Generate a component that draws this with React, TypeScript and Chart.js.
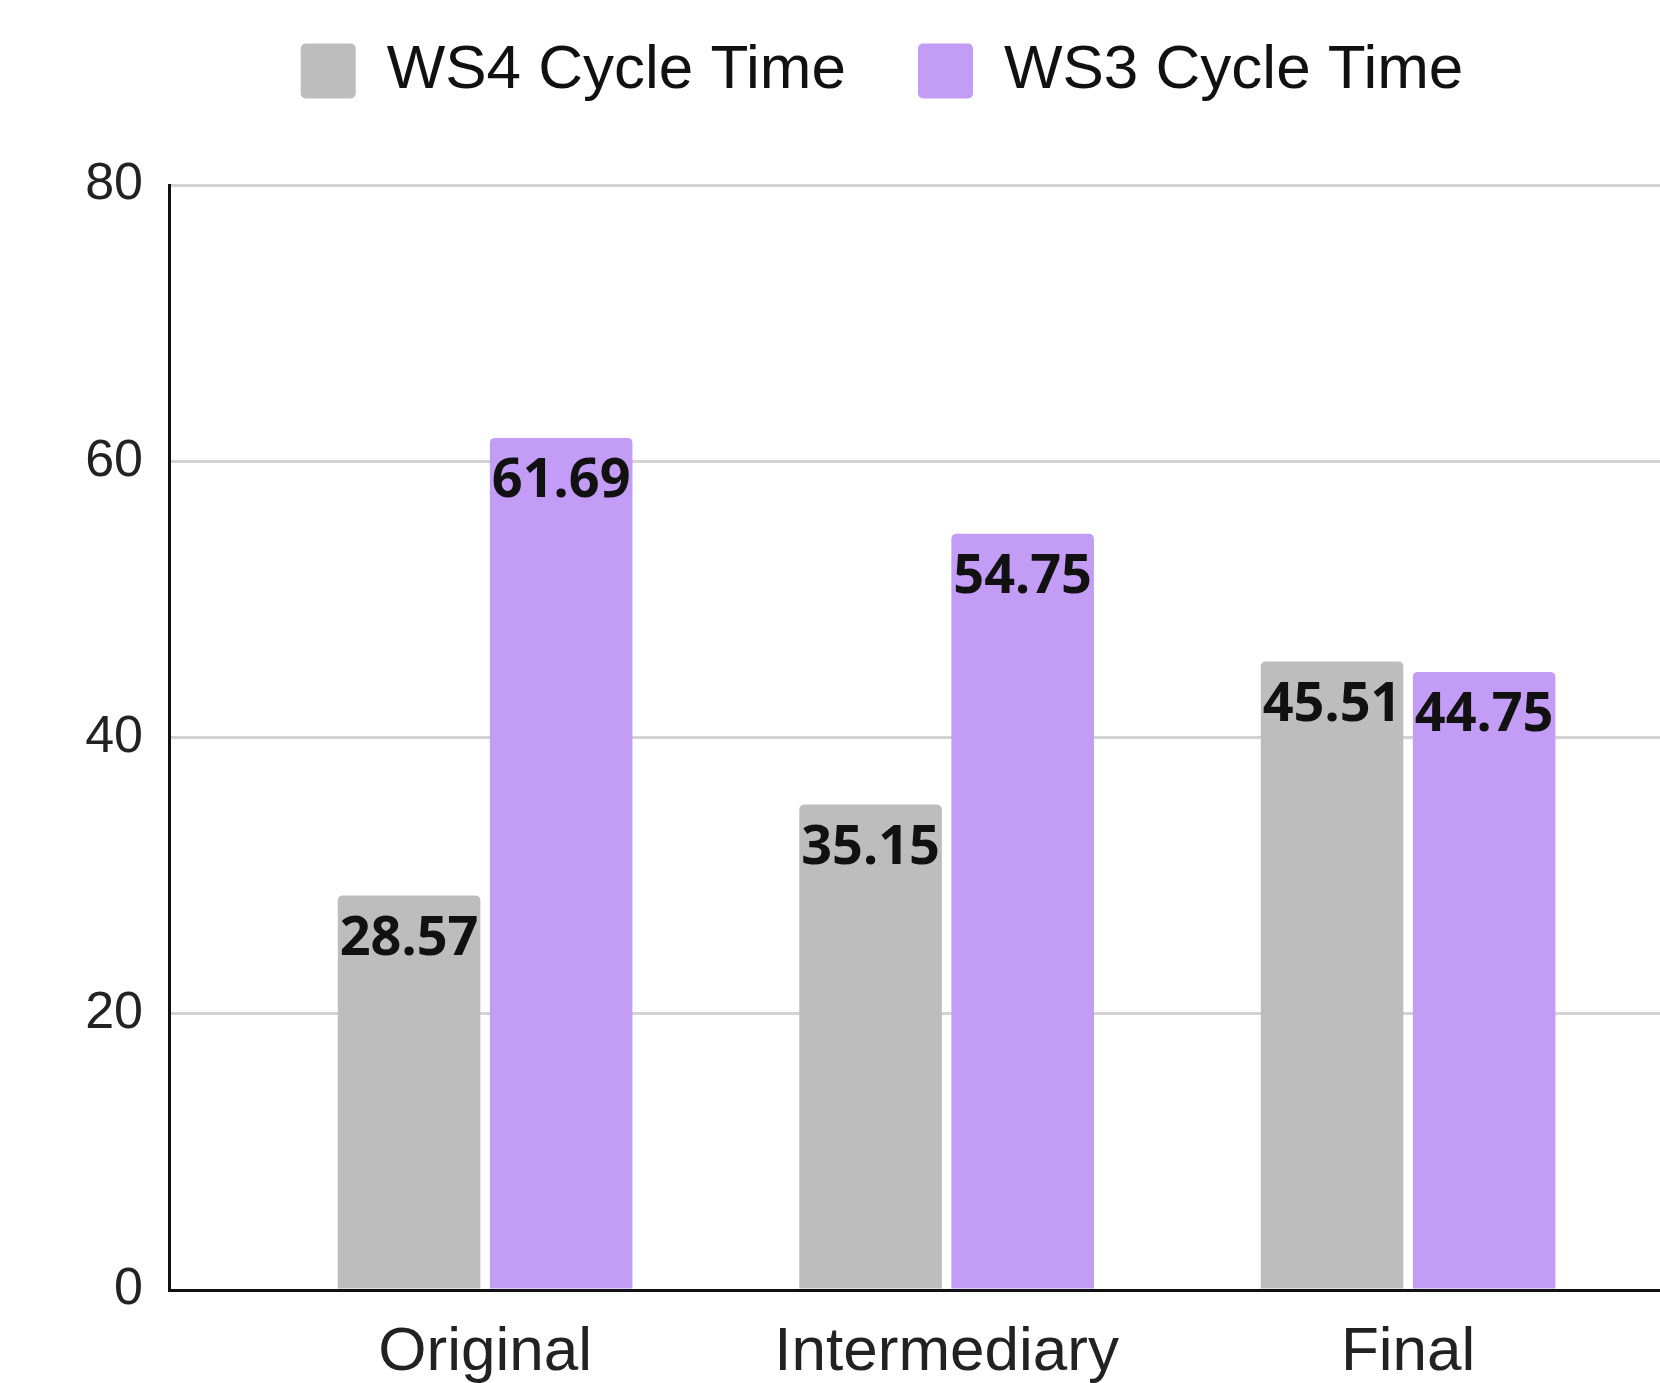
import React, { useEffect, useRef } from "react";
import { Chart, registerables } from "chart.js";

Chart.register(...registerables);

const categories = ["Original", "Intermediary", "Final"];
const ws4Values = [28.57, 35.15, 45.51];
const ws3Values = [61.69, 54.75, 44.75];
const seriesNames = ["WS4 Cycle Time", "WS3 Cycle Time"];
const seriesColors = ["#bdbdbd", "#c39cf5"];
const yTicks = [0, 20, 40, 60, 80];

const CANVAS_W = 1679;
const CANVAS_H = 1383;

const legendGap = {
  id: "legendGap",
  beforeInit(chart: any) {
    const legend = chart.legend;
    if (!legend) return;
    const orig = legend.fit;
    legend.fit = function () {
      orig.call(this);
      this.height += 73;
    };
  },
};

const barLabels = {
  id: "barLabels",
  afterDatasetsDraw(chart: any) {
    const ctx = chart.ctx;
    ctx.save();
    ctx.font = "bold 54px 'Noto Sans', 'DejaVu Sans', sans-serif";
    ctx.textAlign = "center";
    ctx.textBaseline = "middle";
    ctx.fillStyle = "#111";
    chart.data.datasets.forEach((ds: any, di: number) => {
      const meta = chart.getDatasetMeta(di);
      meta.data.forEach((bar: any, i: number) => {
        const v = ds.data[i].y;
        ctx.fillText(v.toFixed(2), bar.x, bar.y + 44);
      });
    });
    ctx.restore();
  },
};

export default function App() {
  const ref = useRef<HTMLCanvasElement>(null);
  useEffect(() => {
    if (!ref.current) return;
    const chart = new Chart(ref.current, {
      type: "bar",
      data: {
        datasets: [
          {
            label: seriesNames[0],
            data: ws4Values.map((y, i) => ({ x: i, y })),
            backgroundColor: seriesColors[0],
            borderWidth: 0,
            borderRadius: 5,
            categoryPercentage: 0.659,
            barPercentage: 0.9375,
          },
          {
            label: seriesNames[1],
            data: ws3Values.map((y, i) => ({ x: i, y })),
            backgroundColor: seriesColors[1],
            borderWidth: 0,
            borderRadius: 5,
            categoryPercentage: 0.659,
            barPercentage: 0.9375,
          },
        ],
      },
      options: {
        responsive: false,
        animation: false,
        events: [],
        layout: { padding: { top: -32, left: 85, right: 0, bottom: 0 } },
        plugins: {
          tooltip: { enabled: false },
          legend: {
            position: "top",
            align: "center",
            labels: {
              boxWidth: 55,
              boxHeight: 55,
              useBorderRadius: true,
              borderRadius: 5,
              padding: 72,
              color: "#111",
              font: { family: "'Liberation Sans', Arial, sans-serif", size: 62 },
            },
          },
        },
        scales: {
          x: {
            type: "linear",
            min: -0.685,
            max: 2.587,
            offset: false,
            grid: { display: false, drawTicks: false },
            border: { display: true, color: "#111", width: 3 },
            afterBuildTicks: (axis: any) => {
              axis.ticks = categories.map((_, i) => ({ value: i }));
            },
            afterFit: (scale: any) => {
              scale.height = 93;
            },
            ticks: {
              autoSkip: false,
              maxRotation: 0,
              padding: 29,
              color: "#222",
              font: { family: "'Liberation Sans', Arial, sans-serif", size: 62, lineHeight: 1.1 },
              callback: (v: any) => categories[v] ?? "",
            },
          },
          y: {
            min: 0,
            max: 80,
            afterBuildTicks: (axis: any) => {
              axis.ticks = yTicks.map((v) => ({ value: v }));
            },
            afterFit: (scale: any) => {
              scale.width = 84;
            },
            grid: { color: "#d3d3d3", lineWidth: 3, drawTicks: false },
            border: { display: true, color: "#111", width: 3 },
            ticks: {
              padding: 26,
              color: "#222",
              font: { family: "'Liberation Sans', Arial, sans-serif", size: 52 },
            },
          },
        },
      },
      plugins: [legendGap, barLabels],
    } as any);
    return () => chart.destroy();
  }, []);
  return (
    <div
      style={{
        position: "absolute",
        left: 0,
        top: 0,
        width: 1660,
        height: CANVAS_H,
        overflow: "hidden",
        background: "#fff",
      }}
    >
      <canvas
        ref={ref}
        width={CANVAS_W}
        height={CANVAS_H}
        style={{ width: CANVAS_W, height: CANVAS_H, display: "block" }}
      />
    </div>
  );
}
